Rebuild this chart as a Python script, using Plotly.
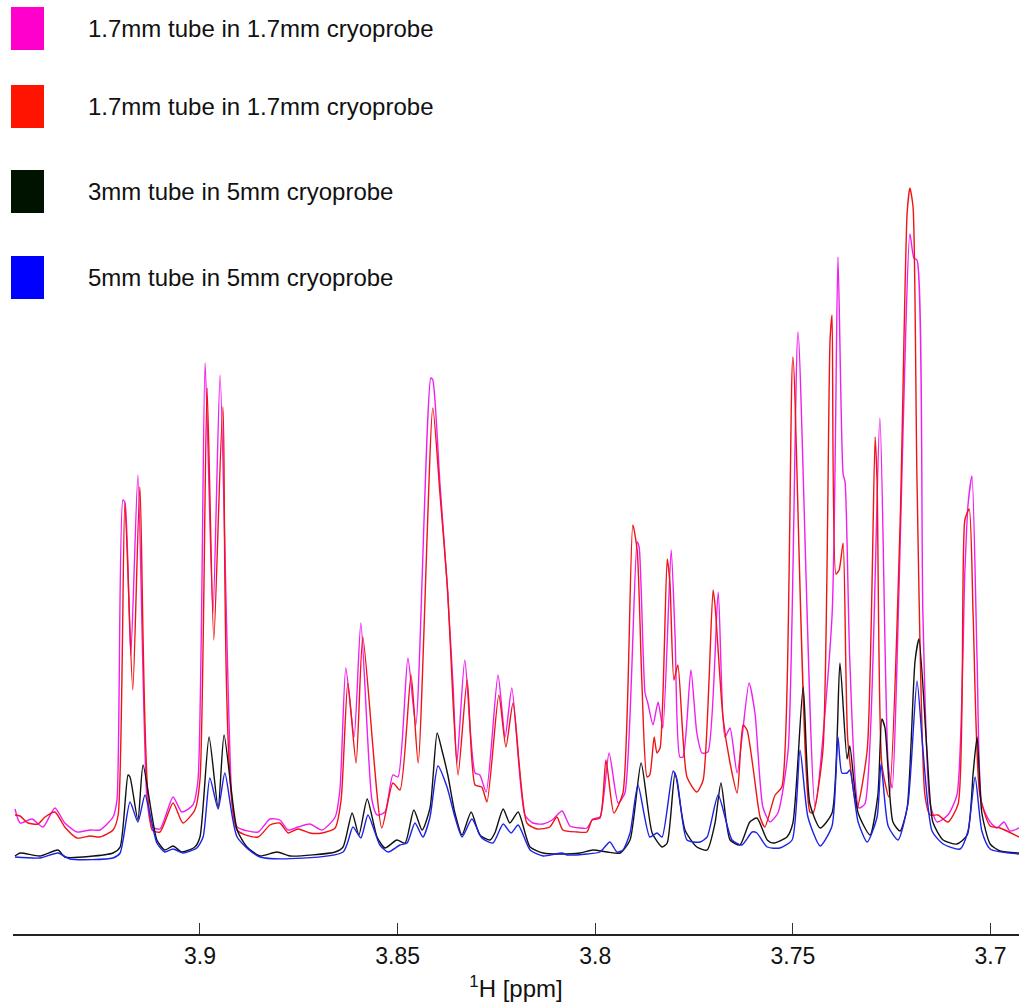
import plotly.graph_objects as go

# 1H NMR spectra of the same sample in four tube / probe combinations
series_names = [
    "1.7mm tube in 1.7mm cryoprobe",
    "1.7mm tube in 1.7mm cryoprobe",
    "3mm tube in 5mm cryoprobe",
    "5mm tube in 5mm cryoprobe",
]
line_colors = ["#f01ef0", "#f01414", "#111111", "#1c22e6"]
swatch_colors = ["#ff00cc", "#ff1400", "#001200", "#0000ff"]

tick_values = [3.9, 3.85, 3.8, 3.75, 3.7]
tick_labels = ["3.9", "3.85", "3.8", "3.75", "3.7"]

# chemical shift (ppm) and intensity (a.u.) along each spectrum
ppm_a = [3.9468, 3.9455, 3.9425, 3.9397, 3.9367, 3.9342, 3.9311, 3.9278, 3.9253, 3.9220,
         3.9210, 3.9195, 3.9190, 3.9175, 3.9157, 3.9134, 3.9121, 3.9101, 3.9068, 3.9046,
         3.9018, 3.9005, 3.8987, 3.8967, 3.8949, 3.8919, 3.8906, 3.8853, 3.8823, 3.8798,
         3.8777, 3.8752, 3.8722, 3.8691, 3.8658, 3.8646, 3.8631, 3.8610, 3.8593, 3.8565,
         3.8552, 3.8532, 3.8512, 3.8499, 3.8474, 3.8454, 3.8416, 3.8411, 3.8393, 3.8375,
         3.8360, 3.8350, 3.8330, 3.8304, 3.8292, 3.8276, 3.8246, 3.8228, 3.8211, 3.8178,
         3.8158, 3.8132, 3.8109, 3.8084, 3.8064, 3.8039, 3.8021, 3.8006, 3.7988, 3.7965,
         3.7942, 3.7925, 3.7894, 3.7889, 3.7874, 3.7867, 3.7854, 3.7841, 3.7829, 3.7808,
         3.7798, 3.7786, 3.7778, 3.7758, 3.7743, 3.7730, 3.7715, 3.7689, 3.7672, 3.7659,
         3.7641, 3.7611, 3.7596, 3.7576, 3.7558, 3.7538, 3.7512, 3.7487, 3.7444, 3.7401,
         3.7386, 3.7373, 3.7368, 3.7356, 3.7333, 3.7318, 3.7280, 3.7259, 3.7249, 3.7204,
         3.7194, 3.7186, 3.7171, 3.7153, 3.7135, 3.7108, 3.7085, 3.7065, 3.7057, 3.7047,
         3.7034, 3.7022, 3.7001, 3.6984, 3.6966, 3.6951, 3.6928]
int_a = [51, 37, 41, 33, 52, 37, 28, 30, 30, 43,
         60, 360, 358, 205, 385, 60, 33, 31, 63, 48,
         55, 80, 497, 247, 485, 60, 33, 28, 41, 40,
         30, 33, 36, 30, 43, 70, 192, 123, 237, 60,
         45, 48, 85, 83, 202, 135, 482, 480, 377, 277,
         177, 97, 200, 87, 85, 68, 185, 123, 172, 45,
         37, 36, 40, 49, 34, 32, 32, 41, 43, 107,
         57, 67, 318, 313, 167, 157, 135, 158, 132, 310,
         223, 103, 103, 190, 127, 107, 108, 268, 123, 132,
         87, 177, 147, 53, 38, 47, 110, 528, 54, 244,
         603, 386, 378, 199, 52, 56, 442, 96, 72, 626,
         602, 600, 244, 56, 38, 45, 65, 288, 355, 384,
         199, 56, 38, 32, 38, 29, 32]

ppm_b = [3.9468, 3.9455, 3.9435, 3.9410, 3.9392, 3.9367, 3.9342, 3.9311, 3.9278, 3.9253,
         3.9220, 3.9207, 3.9190, 3.9170, 3.9152, 3.9121, 3.9101, 3.9068, 3.9043, 3.9013,
         3.9000, 3.8982, 3.8965, 3.8942, 3.8906, 3.8853, 3.8823, 3.8798, 3.8777, 3.8752,
         3.8722, 3.8691, 3.8658, 3.8643, 3.8626, 3.8605, 3.8588, 3.8540, 3.8512, 3.8494,
         3.8466, 3.8448, 3.8411, 3.8393, 3.8373, 3.8360, 3.8347, 3.8324, 3.8304, 3.8287,
         3.8274, 3.8244, 3.8226, 3.8208, 3.8173, 3.8147, 3.8115, 3.8097, 3.8082, 3.8046,
         3.8021, 3.8008, 3.7988, 3.7973, 3.7953, 3.7930, 3.7905, 3.7894, 3.7882, 3.7869,
         3.7862, 3.7851, 3.7844, 3.7836, 3.7818, 3.7811, 3.7801, 3.7791, 3.7768, 3.7743,
         3.7727, 3.7702, 3.7697, 3.7677, 3.7659, 3.7641, 3.7626, 3.7616, 3.7601, 3.7583,
         3.7571, 3.7545, 3.7528, 3.7500, 3.7457, 3.7449, 3.7424, 3.7406, 3.7401, 3.7391,
         3.7383, 3.7373, 3.7361, 3.7338, 3.7312, 3.7292, 3.7287, 3.7275, 3.7257, 3.7229,
         3.7211, 3.7204, 3.7196, 3.7186, 3.7166, 3.7153, 3.7133, 3.7108, 3.7082, 3.7065,
         3.7054, 3.7044, 3.7027, 3.7001, 3.6976, 3.6928]
int_b = [45, 44, 37, 36, 43, 48, 33, 22, 24, 23,
         30, 45, 357, 170, 373, 30, 28, 57, 37, 50,
         80, 472, 220, 453, 30, 23, 35, 37, 27, 31,
         27, 27, 32, 60, 177, 97, 223, 32, 77, 70,
         185, 97, 452, 367, 267, 160, 85, 180, 75, 73,
         58, 165, 113, 157, 37, 31, 33, 43, 30, 28,
         28, 40, 42, 100, 47, 67, 335, 310, 177, 83,
         85, 123, 107, 112, 301, 277, 180, 195, 83, 68,
         80, 270, 255, 143, 97, 67, 135, 130, 93, 43,
         33, 65, 73, 503, 48, 47, 110, 520, 545, 286,
         290, 317, 119, 52, 110, 423, 378, 96, 63, 333,
         647, 672, 653, 378, 65, 45, 45, 38, 56, 340,
         351, 244, 65, 34, 32, 23]

ppm_c = [3.9468, 3.9455, 3.9405, 3.9359, 3.9342, 3.9220, 3.9202, 3.9182, 3.9177, 3.9157,
         3.9144, 3.9109, 3.9089, 3.9068, 3.9046, 3.9013, 3.9000, 3.8977, 3.8954, 3.8939,
         3.8906, 3.8881, 3.8848, 3.8805, 3.8772, 3.8658, 3.8638, 3.8615, 3.8598, 3.8577,
         3.8552, 3.8532, 3.8502, 3.8481, 3.8459, 3.8438, 3.8418, 3.8400, 3.8388, 3.8373,
         3.8355, 3.8337, 3.8314, 3.8292, 3.8266, 3.8254, 3.8233, 3.8216, 3.8195, 3.8165,
         3.8132, 3.8089, 3.8039, 3.8006, 3.7970, 3.7937, 3.7912, 3.7884, 3.7856, 3.7831,
         3.7818, 3.7798, 3.7773, 3.7743, 3.7717, 3.7697, 3.7682, 3.7659, 3.7634, 3.7609,
         3.7591, 3.7565, 3.7550, 3.7515, 3.7500, 3.7474, 3.7457, 3.7431, 3.7401, 3.7381,
         3.7363, 3.7356, 3.7335, 3.7305, 3.7285, 3.7275, 3.7267, 3.7247, 3.7229, 3.7211,
         3.7191, 3.7181, 3.7161, 3.7146, 3.7120, 3.7085, 3.7059, 3.7044, 3.7034, 3.7022,
         3.7001, 3.6976, 3.6928]
int_c = [4, 7, 4, 10, 3, 7, 13, 85, 83, 40,
         95, 20, 10, 14, 8, 13, 23, 123, 52, 125,
         30, 13, 4, 8, 4, 8, 13, 47, 25, 61,
         23, 12, 20, 17, 50, 30, 52, 127, 110, 85,
         47, 25, 48, 25, 20, 27, 51, 37, 48, 13,
         7, 6, 7, 10, 8, 7, 20, 97, 27, 13,
         17, 87, 30, 13, 10, 37, 77, 20, 15, 38,
         42, 20, 17, 23, 37, 173, 56, 32, 47, 197,
         101, 114, 47, 25, 65, 141, 132, 38, 29, 52,
         199, 221, 110, 38, 20, 16, 25, 87, 123, 47,
         16, 9, 7]

ppm_d = [3.9468, 3.9405, 3.9359, 3.9329, 3.9220, 3.9202, 3.9177, 3.9157, 3.9139, 3.9109,
         3.9089, 3.9068, 3.9043, 3.9008, 3.8992, 3.8975, 3.8954, 3.8937, 3.8906, 3.8848,
         3.8638, 3.8613, 3.8593, 3.8575, 3.8545, 3.8524, 3.8494, 3.8476, 3.8456, 3.8436,
         3.8418, 3.8398, 3.8375, 3.8355, 3.8337, 3.8312, 3.8287, 3.8259, 3.8233, 3.8213,
         3.8195, 3.8165, 3.8132, 3.8084, 3.8071, 3.8021, 3.7988, 3.7963, 3.7945, 3.7930,
         3.7912, 3.7892, 3.7862, 3.7844, 3.7831, 3.7803, 3.7793, 3.7768, 3.7735, 3.7717,
         3.7689, 3.7654, 3.7629, 3.7603, 3.7591, 3.7565, 3.7533, 3.7502, 3.7482, 3.7462,
         3.7431, 3.7401, 3.7386, 3.7376, 3.7363, 3.7356, 3.7335, 3.7312, 3.7287, 3.7277,
         3.7259, 3.7234, 3.7209, 3.7186, 3.7171, 3.7148, 3.7120, 3.7077, 3.7057, 3.7039,
         3.7022, 3.7001, 3.6928]
int_d = [3, 2, 7, 1, 2, 7, 58, 38, 65, 17,
         8, 11, 7, 12, 23, 82, 51, 87, 23, 3,
         8, 33, 22, 45, 15, 8, 15, 17, 37, 23,
         43, 94, 73, 43, 23, 41, 22, 17, 36, 27,
         35, 10, 4, 7, 5, 6, 8, 18, 8, 10,
         27, 75, 23, 27, 23, 89, 80, 20, 18, 23,
         65, 20, 15, 28, 27, 13, 12, 20, 110, 43,
         14, 34, 123, 87, 87, 90, 38, 18, 43, 96,
         34, 20, 56, 179, 110, 29, 16, 11, 29, 83,
         29, 11, 6]

spectra = [(ppm_a, int_a), (ppm_b, int_b), (ppm_c, int_c), (ppm_d, int_d)]

W, H = 1019, 1003
M_L, M_R, M_T, M_B = 13, 0, 0, 69
FONT = "Liberation Sans, Arial, sans-serif"

fig = go.Figure()
for (ppm, inten), name, color in zip(spectra, series_names, line_colors):
    fig.add_trace(go.Scatter(x=ppm, y=inten, mode="lines", name=name,
                             line=dict(color=color, width=1.4, shape="spline",
                                       smoothing=0.6),
                             showlegend=False))

# hand-built key: colour block + label, stacked down the top-left corner
plot_w = W - M_L - M_R
plot_h = H - M_T - M_B


def px_x(px):
    return (px - M_L) / plot_w


def px_y(py):
    return 1 - (py - M_T) / plot_h


key_tops = [7, 85, 170, 256]
key_h, key_x0, key_x1, text_x = 43, 11, 44, 86
shapes = []
annotations = []
for top, name, sw in zip(key_tops, series_names, swatch_colors):
    shapes.append(dict(type="rect", xref="paper", yref="paper",
                       x0=px_x(key_x0), x1=px_x(key_x1),
                       y0=px_y(top + key_h), y1=px_y(top),
                       fillcolor=sw, line=dict(width=0)))
    annotations.append(dict(xref="paper", yref="paper", x=px_x(text_x),
                            y=px_y(top + key_h / 2), text=name, showarrow=False,
                            xanchor="left", yanchor="middle",
                            font=dict(family=FONT, size=24, color="#111")))

fig.update_layout(
    width=W, height=H,
    margin=dict(l=M_L, r=M_R, t=M_T, b=M_B),
    paper_bgcolor="white", plot_bgcolor="white",
    font=dict(family=FONT, size=24, color="#111"),
    shapes=shapes, annotations=annotations,
    xaxis=dict(range=[3.9473, 3.6928], tickvals=tick_values, ticktext=tick_labels,
               ticks="inside", ticklen=11, tickwidth=1, tickcolor="#333",
               showline=True, linecolor="#222", linewidth=2,
               showgrid=False, zeroline=False,
               tickfont=dict(family=FONT, size=23, color="#111"),
               title=dict(text="<sup>1</sup>H [ppm]", standoff=13,
                          font=dict(family=FONT, size=24, color="#111"))),
    yaxis=dict(visible=False, range=[-74, 860]),
)

fig.write_html("out.html")
